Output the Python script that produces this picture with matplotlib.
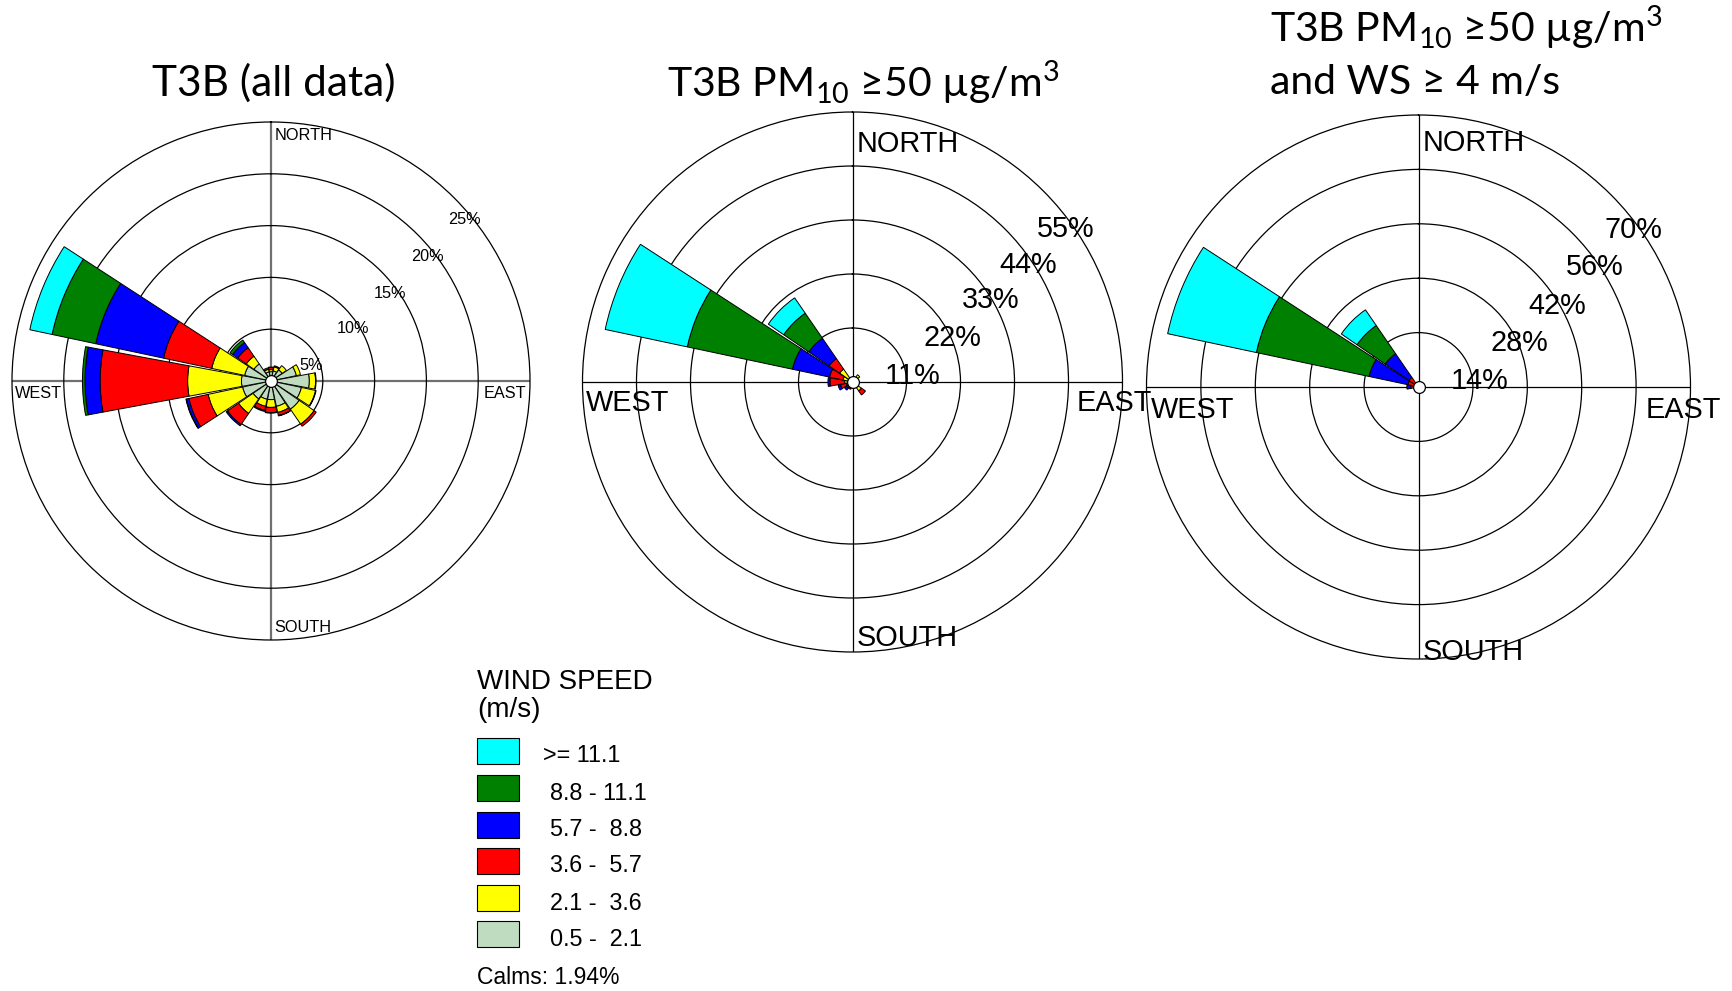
import numpy as np
import matplotlib
matplotlib.use("Agg")
import matplotlib.pyplot as plt

# Wind rose data: segment length (%) per direction and speed class
directions = ['N', 'NNE', 'NE', 'ENE', 'E', 'ESE', 'SE', 'SSE',
              'S', 'SSW', 'SW', 'WSW', 'W', 'WNW', 'NW', 'NNW']
speed_labels = ['>= 11.1', ' 8.8 - 11.1', ' 5.7 -  8.8', ' 3.6 -  5.7', ' 2.1 -  3.6', ' 0.5 -  2.1']
speed_colors = ['#00FFFF', '#008000', '#0000FF', '#FF0000', '#FFFF00', '#C0DCC0']
calms_text = 'Calms: 1.94%'

# panel 1: all data
p1_05_21 = [0.9, 1.0, 1.3, 2.5, 3.7, 3.0, 3.3, 2.5, 1.8, 1.8, 2.1, 2.8, 2.85, 2.6, 2.0, 0.9]
p1_21_36 = [0.2, 0.4, 0.5, 0.4, 0.6, 1.4, 1.75, 0.6, 0.75, 0.7, 1.7, 3.4, 5.2, 3.25, 0.9, 0.25]
p1_36_57 = [0.2, 0.1, 0.0, 0.0, 0.05, 0.05, 0.25, 0.3, 0.5, 0.4, 1.3, 1.9, 8.45, 4.75, 1.0, 0.15]
p1_57_88 = [0.05, 0.0, 0.0, 0.0, 0.0, 0.0, 0.0, 0.05, 0.05, 0.1, 0.15, 0.25, 1.45, 6.7, 0.6, 0.0]
p1_88_111 = [0, 0, 0, 0, 0, 0, 0, 0, 0, 0, 0, 0.05, 0.25, 4.3, 0.3, 0]
p1_111 = [0, 0, 0, 0, 0, 0, 0, 0, 0, 0, 0, 0, 0, 2.2, 0, 0]

# panel 2: PM10 >= 50
p2_05_21 = [0, 0, 0.8, 0, 0, 0, 0.8, 0, 0, 0.8, 0.8, 0.8, 0.8, 0.8, 0.8, 0]
p2_21_36 = [0, 0, 1.0, 0, 0, 0, 1.4, 0, 0, 0.2, 0.3, 0.5, 0.8, 1.2, 2.4, 0]
p2_36_57 = [0, 0, 0, 0, 0, 0, 1.0, 0, 0, 0.5, 0.4, 1.2, 3.0, 2.8, 2.6, 0]
p2_57_88 = [0, 0, 0, 0, 0, 0, 0, 0, 0, 0, 0.5, 0.5, 0.4, 7.7, 5.0, 0]
p2_88_111 = [0, 0, 0, 0, 0, 0, 0, 0, 0, 0, 0, 0, 0, 21.9, 6.2, 0]
p2_111 = [0, 0, 0, 0, 0, 0, 0, 0, 0, 0, 0, 0, 0, 17.1, 3.8, 0]

# panel 3: PM10 >= 50 and WS >= 4
p3_05_21 = [0] * 16
p3_21_36 = [0] * 16
p3_36_57 = [0, 0, 0, 0, 0, 0, 0, 0, 0, 0, 0, 0, 2.0, 2.8, 3.0, 0]
p3_57_88 = [0, 0, 0, 0, 0, 0, 0, 0, 0, 0, 0, 0, 1.0, 10.2, 7.4, 0]
p3_88_111 = [0, 0, 0, 0, 0, 0, 0, 0, 0, 0, 0, 0, 0, 29.65, 8.8, 0]
p3_111 = [0, 0, 0, 0, 0, 0, 0, 0, 0, 0, 0, 0, 0, 23.35, 4.9, 0]

p1_rings = [5, 10, 15, 20, 25]
p2_rings = [11, 22, 33, 44, 55]
p3_rings = [14, 28, 42, 56, 70]

W, H = 1732, 991
fig = plt.figure(figsize=(W / 100, H / 100), dpi=100)
label_font = 'Liberation Sans'
title_font = 'Lato'
plt.rcParams['mathtext.fontset'] = 'custom'
plt.rcParams['mathtext.rm'] = title_font


def fx(x):
    return x / W


def fy(y):
    return 1 - y / H


def rose(cx, cy, R, rings, segs, cross_color, cross_lw, fs, pct_pos, dir_pos):
    ax = fig.add_axes([fx(cx - R), fy(cy + R), 2 * R / W, 2 * R / H], projection='polar')
    ax.set_theta_zero_location('N')
    ax.set_theta_direction(-1)
    ax.set_ylim(0, rings[-1])
    ax.set_yticks(rings[:-1])
    ax.set_yticklabels([])
    ax.set_xticks(np.radians([0, 90, 180, 270]))
    ax.set_xticklabels([])
    ax.yaxis.grid(True, color='black', linewidth=0.9, linestyle='-')
    ax.xaxis.grid(True, color=cross_color, linewidth=cross_lw, linestyle='-')
    ax.spines['polar'].set_linewidth(0.9)
    ax.set_axisbelow(True)
    theta = np.radians(np.arange(16) * 22.5)
    bottom = np.zeros(16)
    # segs ordered from slowest class outward
    for vals, col in zip(segs, speed_colors[::-1]):
        vals = np.array(vals, dtype=float)
        mask = vals > 0
        ax.bar(theta[mask], vals[mask], width=np.radians(21), bottom=bottom[mask],
               color=col, edgecolor='black', linewidth=0.7, zorder=3)
        bottom += vals
    ax.plot([0], [0], 'o', ms=8.5, mfc='white', mec='black', mew=0.9, zorder=5)
    for val, (px, py) in zip(rings, pct_pos):
        fig.text(fx(px), fy(py), f'{val}%', ha='center', va='center',
                 fontsize=fs, family=label_font)
    for name, (px, py) in zip(['NORTH', 'WEST', 'EAST', 'SOUTH'], dir_pos):
        fig.text(fx(px), fy(py), name, ha='left', va='center', fontsize=fs, family=label_font)
    return ax


rose(271, 381, 259, p1_rings,
     [p1_05_21, p1_21_36, p1_36_57, p1_57_88, p1_88_111, p1_111],
     '#707070', 1.6, 11.7,
     [(311, 366), (353, 329), (390, 293), (427, 256), (464, 219)],
     [(275, 135), (15, 393), (484, 393), (274, 627)])

rose(852.5, 382, 270, p2_rings,
     [p2_05_21, p2_21_36, p2_36_57, p2_57_88, p2_88_111, p2_111],
     'black', 0.9, 20.8,
     [(913, 376), (952, 338), (991, 300), (1028, 265), (1066, 229)],
     [(857, 144), (586, 403), (1077, 403), (857, 638)])

rose(1418.5, 387, 272, p3_rings,
     [p3_05_21, p3_21_36, p3_36_57, p3_57_88, p3_88_111, p3_111],
     'black', 0.9, 20.8,
     [(1480, 381), (1519, 343), (1557, 306), (1595, 267), (1633, 230)],
     [(1423, 143), (1151, 410), (1646, 410), (1423, 652)])

# titles
fig.text(fx(274), fy(83), 'T3B (all data)', ha='center', va='center', fontsize=30.5, family=title_font)
fig.text(fx(863), fy(83), 'T3B PM$_{10}$ \u226550 \u00b5g/m$^3$', ha='center', va='center',
         fontsize=29.5, family=title_font)
fig.text(fx(1270), fy(28), 'T3B PM$_{10}$ \u226550 \u00b5g/m$^3$', ha='left', va='center',
         fontsize=29.5, family=title_font)
fig.text(fx(1270), fy(83), 'and WS \u2265 4 m/s', ha='left', va='center',
         fontsize=29.5, family=title_font)

# legend
fig.text(fx(477), fy(682), 'WIND SPEED', ha='left', va='center', fontsize=20, family=label_font)
fig.text(fx(477), fy(710), '(m/s)', ha='left', va='center', fontsize=20, family=label_font)
box_y = [751, 788, 825, 861, 898, 934]
label_x = [543, 550, 550, 550, 550, 550]
for yy, col, lab, lx in zip(box_y, speed_colors, speed_labels, label_x):
    fig.patches.append(plt.Rectangle((fx(477), fy(yy + 13)), 42 / W, 26 / H,
                                     transform=fig.transFigure, facecolor=col,
                                     edgecolor='black', linewidth=0.8))
    fig.text(fx(lx), fy(yy + 5), lab.strip(), ha='left', va='center', fontsize=16.8, family=label_font)
fig.text(fx(477), fy(977), calms_text, ha='left', va='center', fontsize=16.5, family=label_font)

fig.savefig('out.png', dpi=100)
